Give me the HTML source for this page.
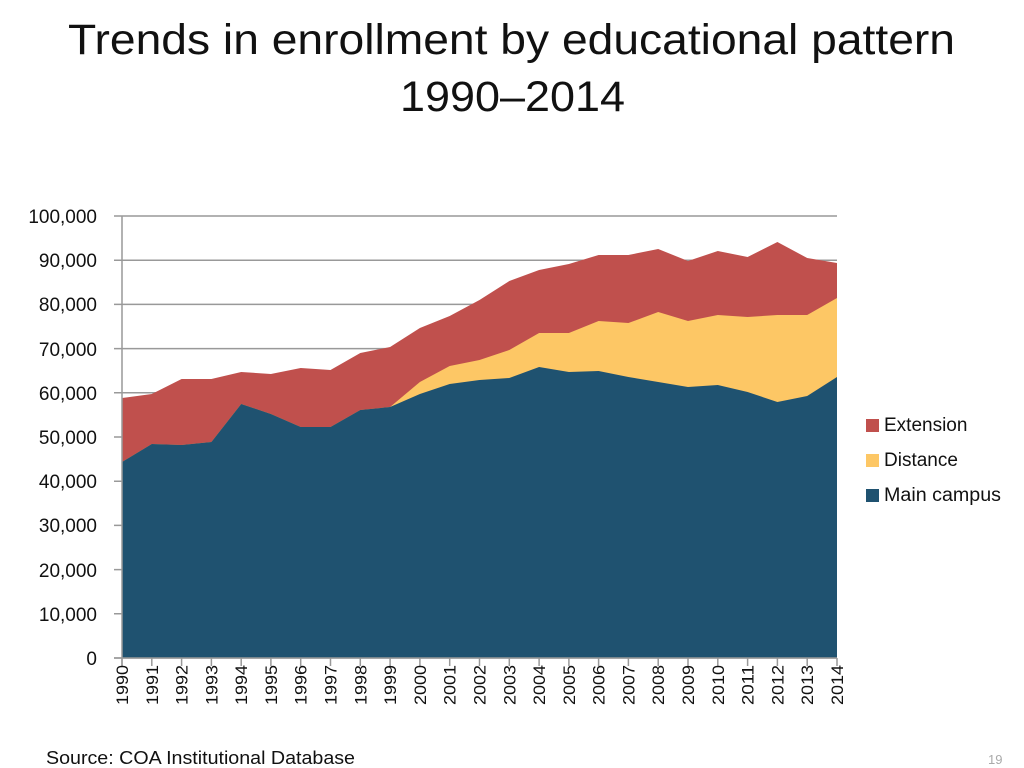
<!DOCTYPE html>
<html><head><meta charset="utf-8"><style>
html,body{margin:0;padding:0;background:#fff;width:1024px;height:768px;overflow:hidden}
svg{display:block;font-family:"Liberation Sans","DejaVu Sans",sans-serif}
</style></head><body>
<svg width="1024" height="768" viewBox="0 0 1024 768">
<rect width="1024" height="768" fill="#fff"/>
<text x="68" y="54" font-size="43" fill="#111" textLength="887" lengthAdjust="spacingAndGlyphs">Trends in enrollment by educational pattern</text>
<text x="400" y="111" font-size="43" fill="#111" textLength="225" lengthAdjust="spacingAndGlyphs">1990–2014</text>
<g stroke="#999" stroke-width="1.5">
<line x1="114" y1="216" x2="837" y2="216"/><line x1="114" y1="260.2" x2="837" y2="260.2"/><line x1="114" y1="304.4" x2="837" y2="304.4"/><line x1="114" y1="348.6" x2="837" y2="348.6"/><line x1="114" y1="392.8" x2="837" y2="392.8"/><line x1="114" y1="437" x2="837" y2="437"/><line x1="114" y1="481.2" x2="837" y2="481.2"/><line x1="114" y1="525.4" x2="837" y2="525.4"/><line x1="114" y1="569.6" x2="837" y2="569.6"/><line x1="114" y1="613.8" x2="837" y2="613.8"/><line x1="114" y1="658" x2="837" y2="658"/>
</g>
<polygon fill="#c0504d" points="122,658 122,398 151.8,394 181.6,379 211.4,379 241.2,372 270.9,374 300.7,368 330.5,370 360.3,353 390.1,347 419.9,328 449.7,316 479.5,300 509.3,281 539.1,270 568.9,264 598.6,255 628.4,255 658.2,249 688,261 717.8,251 747.6,257 777.4,242 807.2,258 837,263 837,658"/>
<polygon fill="#fdc765" points="122,658 122,462 151.8,444 181.6,445 211.4,442 241.2,404 270.9,414 300.7,427 330.5,427 360.3,410 390.1,407 419.9,382 449.7,366 479.5,360 509.3,350 539.1,333 568.9,333 598.6,321 628.4,323 658.2,312 688,321 717.8,315 747.6,317 777.4,315 807.2,315 837,298 837,658"/>
<polygon fill="#1f5270" points="122,658 122,462 151.8,444 181.6,445 211.4,442 241.2,404 270.9,414 300.7,427 330.5,427 360.3,410 390.1,407 419.9,394 449.7,384 479.5,380 509.3,378 539.1,367 568.9,372 598.6,371 628.4,377 658.2,382 688,387 717.8,385 747.6,392 777.4,402 807.2,396 837,377 837,658"/>
<line x1="122" y1="216" x2="122" y2="666" stroke="#999" stroke-width="1.5"/>
<line x1="114" y1="658" x2="837" y2="658" stroke="#999" stroke-width="1.5"/>
<g font-size="19" fill="#111" text-anchor="end">
<text x="97" y="223">100,000</text><text x="97" y="267">90,000</text><text x="97" y="311">80,000</text><text x="97" y="356">70,000</text><text x="97" y="400">60,000</text><text x="97" y="444">50,000</text><text x="97" y="488">40,000</text><text x="97" y="532">30,000</text><text x="97" y="577">20,000</text><text x="97" y="621">10,000</text><text x="97" y="665">0</text>
</g>
<rect x="866" y="419" width="13" height="13" fill="#c0504d"/>
<rect x="866" y="454" width="13" height="13" fill="#fdc765"/>
<rect x="866" y="489" width="13" height="13" fill="#1f5270"/>
<g font-size="19" fill="#111">
<text x="884" y="431">Extension</text><text x="884" y="466">Distance</text><text x="884" y="501" textLength="117" lengthAdjust="spacingAndGlyphs">Main campus</text>
</g>
<text x="46" y="764" font-size="18" fill="#111" textLength="309" lengthAdjust="spacingAndGlyphs">Source: COA Institutional Database</text>
<text x="988" y="764" font-size="13" fill="#aaa">19</text>
<g stroke="#999" stroke-width="1.5">
<line x1="122" y1="658" x2="122" y2="666"/><line x1="151.8" y1="658" x2="151.8" y2="666"/><line x1="181.6" y1="658" x2="181.6" y2="666"/><line x1="211.4" y1="658" x2="211.4" y2="666"/><line x1="241.2" y1="658" x2="241.2" y2="666"/><line x1="270.9" y1="658" x2="270.9" y2="666"/><line x1="300.7" y1="658" x2="300.7" y2="666"/><line x1="330.5" y1="658" x2="330.5" y2="666"/><line x1="360.3" y1="658" x2="360.3" y2="666"/><line x1="390.1" y1="658" x2="390.1" y2="666"/><line x1="419.9" y1="658" x2="419.9" y2="666"/><line x1="449.7" y1="658" x2="449.7" y2="666"/><line x1="479.5" y1="658" x2="479.5" y2="666"/><line x1="509.3" y1="658" x2="509.3" y2="666"/><line x1="539.1" y1="658" x2="539.1" y2="666"/><line x1="568.9" y1="658" x2="568.9" y2="666"/><line x1="598.6" y1="658" x2="598.6" y2="666"/><line x1="628.4" y1="658" x2="628.4" y2="666"/><line x1="658.2" y1="658" x2="658.2" y2="666"/><line x1="688" y1="658" x2="688" y2="666"/><line x1="717.8" y1="658" x2="717.8" y2="666"/><line x1="747.6" y1="658" x2="747.6" y2="666"/><line x1="777.4" y1="658" x2="777.4" y2="666"/><line x1="807.2" y1="658" x2="807.2" y2="666"/><line x1="837" y1="658" x2="837" y2="666"/>
</g>
<g font-size="17" fill="#111" text-anchor="end">
<text transform="translate(128,665) rotate(-90)" textLength="40" lengthAdjust="spacingAndGlyphs">1990</text>
<text transform="translate(157.8,665) rotate(-90)" textLength="40" lengthAdjust="spacingAndGlyphs">1991</text>
<text transform="translate(187.6,665) rotate(-90)" textLength="40" lengthAdjust="spacingAndGlyphs">1992</text>
<text transform="translate(217.4,665) rotate(-90)" textLength="40" lengthAdjust="spacingAndGlyphs">1993</text>
<text transform="translate(247.2,665) rotate(-90)" textLength="40" lengthAdjust="spacingAndGlyphs">1994</text>
<text transform="translate(276.9,665) rotate(-90)" textLength="40" lengthAdjust="spacingAndGlyphs">1995</text>
<text transform="translate(306.7,665) rotate(-90)" textLength="40" lengthAdjust="spacingAndGlyphs">1996</text>
<text transform="translate(336.5,665) rotate(-90)" textLength="40" lengthAdjust="spacingAndGlyphs">1997</text>
<text transform="translate(366.3,665) rotate(-90)" textLength="40" lengthAdjust="spacingAndGlyphs">1998</text>
<text transform="translate(396.1,665) rotate(-90)" textLength="40" lengthAdjust="spacingAndGlyphs">1999</text>
<text transform="translate(425.9,665) rotate(-90)" textLength="40" lengthAdjust="spacingAndGlyphs">2000</text>
<text transform="translate(455.7,665) rotate(-90)" textLength="40" lengthAdjust="spacingAndGlyphs">2001</text>
<text transform="translate(485.5,665) rotate(-90)" textLength="40" lengthAdjust="spacingAndGlyphs">2002</text>
<text transform="translate(515.3,665) rotate(-90)" textLength="40" lengthAdjust="spacingAndGlyphs">2003</text>
<text transform="translate(545.1,665) rotate(-90)" textLength="40" lengthAdjust="spacingAndGlyphs">2004</text>
<text transform="translate(574.9,665) rotate(-90)" textLength="40" lengthAdjust="spacingAndGlyphs">2005</text>
<text transform="translate(604.6,665) rotate(-90)" textLength="40" lengthAdjust="spacingAndGlyphs">2006</text>
<text transform="translate(634.4,665) rotate(-90)" textLength="40" lengthAdjust="spacingAndGlyphs">2007</text>
<text transform="translate(664.2,665) rotate(-90)" textLength="40" lengthAdjust="spacingAndGlyphs">2008</text>
<text transform="translate(694,665) rotate(-90)" textLength="40" lengthAdjust="spacingAndGlyphs">2009</text>
<text transform="translate(723.8,665) rotate(-90)" textLength="40" lengthAdjust="spacingAndGlyphs">2010</text>
<text transform="translate(753.6,665) rotate(-90)" textLength="40" lengthAdjust="spacingAndGlyphs">2011</text>
<text transform="translate(783.4,665) rotate(-90)" textLength="40" lengthAdjust="spacingAndGlyphs">2012</text>
<text transform="translate(813.2,665) rotate(-90)" textLength="40" lengthAdjust="spacingAndGlyphs">2013</text>
<text transform="translate(843,665) rotate(-90)" textLength="40" lengthAdjust="spacingAndGlyphs">2014</text>
</g>
</svg>
</body></html>
